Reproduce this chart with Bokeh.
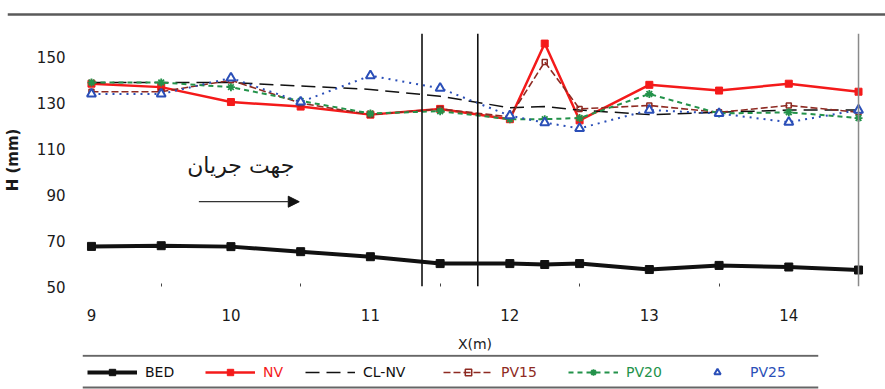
from bokeh.plotting import figure
from bokeh.layouts import column
from bokeh.models import (Range1d, FixedTicker, Span, Label, Arrow, NormalHead,
                          Legend, LegendItem)
from bokeh.embed import file_html
from bokeh.resources import INLINE

# ---- data ----
x = [9, 9.5, 10, 10.5, 11, 11.5, 12, 12.25, 12.5, 13, 13.5, 14, 14.5]
bed = [67.5, 67.8, 67.4, 65.2, 63.0, 60.0, 60.0, 59.6, 60.0, 57.4, 59.2, 58.5, 57.2]
nv = [138.5, 137.0, 130.5, 128.5, 125.0, 127.5, 123.0, 156.0, 122.5, 138.0, 135.5, 138.5, 135.0]
clnv = [139.0, 139.0, 139.0, 137.5, 136.0, 133.0, 128.0, 128.5, 127.0, 125.0, 126.0, 127.0, 127.0]
pv15 = [135.0, 135.0, 140.0, 130.0, 125.0, 127.5, 124.0, 148.0, 127.5, 129.0, 126.0, 129.0, 126.0]
pv20 = [139.0, 139.0, 137.0, 131.0, 125.5, 126.5, 123.0, 123.0, 123.5, 134.0, 125.5, 126.0, 123.5]
pv25 = [134.0, 134.0, 141.0, 130.5, 142.0, 136.5, 124.5, 121.5, 119.0, 127.0, 125.5, 121.7, 127.0]

x_ticks = [9, 10, 11, 12, 13, 14]
x_minor = [9.5, 10.5, 11.5, 12.5, 13.5]
y_ticks = [50, 70, 90, 110, 130, 150]
section_lines = [11.37, 11.77]
end_line = 14.5
series_names = ["BED", "NV", "CL-NV", "PV15", "PV20", "PV25"]
flow_text = "جهت جریان"
x_label = "X(m)"
y_label = "H (mm)"

BLACK = "#111111"
RED = "#f41a1a"
BROWN = "#8e2a22"
GREEN = "#23924a"
BLUE = "#2b4fb8"
FONT = "DejaVu Sans"
TXT = "#1a1a1a"


def add_series(fig):
    r = {}
    r["bed_l"] = fig.line(x, bed, line_color=BLACK, line_width=4)
    r["bed_m"] = fig.scatter(x, bed, marker="square", size=8, color=BLACK)
    r["nv_l"] = fig.line(x, nv, line_color=RED, line_width=2.5)
    r["nv_m"] = fig.scatter(x, nv, marker="square", size=7, color=RED)
    r["cl"] = fig.line(x, clnv, line_color=BLACK, line_width=1.5, line_dash="14 7")
    r["15_l"] = fig.line(x, pv15, line_color=BROWN, line_width=1.6, line_dash="7 3")
    r["15_m"] = fig.scatter(x, pv15, marker="square", size=5, fill_color=None,
                            line_color=BROWN, line_width=1.5)
    r["20_l"] = fig.line(x, pv20, line_color=GREEN, line_width=2, line_dash="5 4")
    r["20_m"] = fig.scatter(x, pv20, marker="asterisk", size=8, line_color=GREEN, line_width=1.8)
    r["25_l"] = fig.line(x, pv25, line_color=BLUE, line_width=2, line_dash="2 5")
    r["25_m"] = fig.scatter(x, pv25, marker="triangle", size=9, fill_color="white",
                            line_color=BLUE, line_width=2)
    return r


# ---- top rule strip ----
top = figure(width=885, height=19, output_backend="svg", toolbar_location=None,
             x_range=Range1d(0, 1), y_range=Range1d(19, 0),
             x_axis_location=None, y_axis_location=None, frame_align=False,
             min_border_left=7, min_border_right=0, min_border_top=0, min_border_bottom=0)
top.outline_line_color = None
top.grid.grid_line_color = None
top.add_layout(Span(location=14, dimension="width", line_color="#5a5a5a", line_width=2.5))

# ---- main chart ----
p = figure(width=885, height=335, output_backend="svg", toolbar_location=None,
           x_range=Range1d(8.95, 14.55), y_range=Range1d(50, 160.4), frame_align=False,
           min_border_left=83, min_border_right=20, min_border_top=14,
           min_border_bottom=67)
p.outline_line_color = None
p.grid.grid_line_color = None

p.xaxis.ticker = FixedTicker(ticks=x_ticks, minor_ticks=x_minor)
p.yaxis.ticker = FixedTicker(ticks=y_ticks)
for ax in (p.xaxis[0], p.yaxis[0]):
    ax.axis_line_color = None
    ax.major_tick_line_color = None
    ax.major_label_text_font = FONT
    ax.major_label_text_font_size = "15px"
    ax.major_label_text_color = TXT
    ax.axis_label_text_font = FONT
    ax.axis_label_text_font_style = "normal"
    ax.axis_label_text_color = TXT
p.xaxis.minor_tick_line_color = "#444444"
p.xaxis.minor_tick_in = 3
p.xaxis.minor_tick_out = 0
p.yaxis.minor_tick_line_color = None
p.xaxis.major_label_standoff = 16
p.yaxis.major_label_standoff = 13
p.xaxis.axis_label = x_label
p.yaxis.axis_label = y_label
p.xaxis.axis_label_text_font_size = "14px"
p.yaxis.axis_label_text_font_size = "15px"
p.yaxis.axis_label_text_font_style = "bold"
p.xaxis.axis_label_standoff = 12
p.yaxis.axis_label_standoff = 12

for xs in section_lines:
    p.add_layout(Span(location=xs, dimension="height", line_color="#111111", line_width=1.6))
p.add_layout(Span(location=end_line, dimension="height", line_color="#8a8a8a", line_width=1.5))

add_series(p)

p.add_layout(Label(x=10.07, y=103, text=flow_text, text_align="center",
                   text_baseline="middle", text_font="DejaVu Sans",
                   text_font_size="22px", text_color=TXT))
p.add_layout(Arrow(x_start=9.77, y_start=87, x_end=10.49, y_end=87,
                   line_color="#333333", line_width=1.2,
                   end=NormalHead(size=11, fill_color="#111111", line_color="#111111")))

# ---- legend strip (series drawn out of view; legends show their glyphs) ----
leg = figure(width=885, height=35, output_backend="svg", toolbar_location=None,
             x_range=Range1d(82, 818), y_range=Range1d(389, 354),
             x_axis_location=None, y_axis_location=None, frame_align=False,
             min_border_left=82, min_border_right=67, min_border_top=0, min_border_bottom=0)
leg.outline_line_color = None
leg.grid.grid_line_color = None
for yy in (355.2, 387):
    leg.add_layout(Span(location=yy, dimension="width", line_color="#666666", line_width=2))
lr = add_series(leg)

legend_specs = [
    (series_names[0], [lr["bed_l"], lr["bed_m"]], BLACK, 87),
    (series_names[1], [lr["nv_l"], lr["nv_m"]], RED, 205),
    (series_names[2], [lr["cl"]], BLACK, 305),
    (series_names[3], [lr["15_l"], lr["15_m"]], BROWN, 443),
    (series_names[4], [lr["20_l"], lr["20_m"]], GREEN, 568),
    (series_names[5], [lr["25_m"]], BLUE, 692),
]
for name, rends, col, gx in legend_specs:
    lg = Legend(items=[LegendItem(label=name, renderers=rends)],
                location=(gx - 82, 389 - 380),
                orientation="horizontal", glyph_width=50, glyph_height=16,
                label_standoff=8, padding=0, margin=0, spacing=0,
                label_text_font=FONT, label_text_font_size="14px",
                label_text_color=col, border_line_color=None,
                background_fill_alpha=0)
    leg.add_layout(lg, "center")

layout = column(top, p, leg, spacing=0)
open("out.html", "w").write(file_html(layout, INLINE))
